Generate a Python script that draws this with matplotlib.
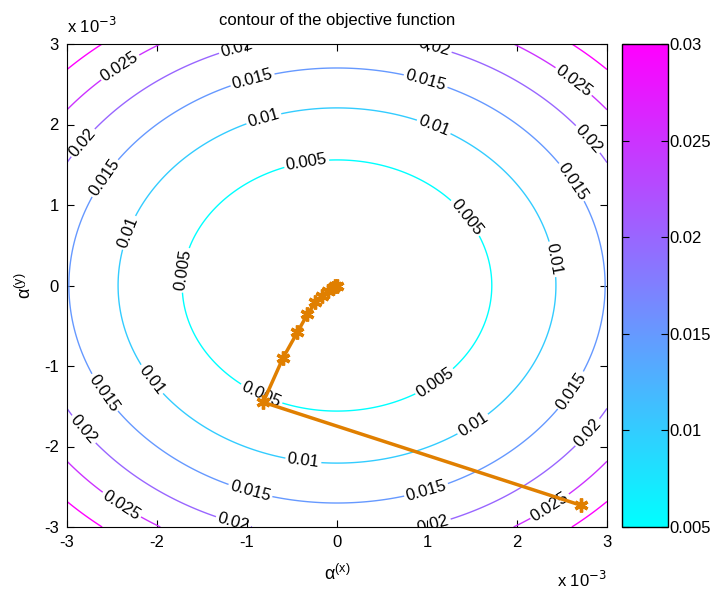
import matplotlib
matplotlib.use("Agg")
import matplotlib.pyplot as plt
import numpy as np
from matplotlib.ticker import FuncFormatter, FixedLocator
from matplotlib.colors import Normalize
from matplotlib.cm import ScalarMappable

plt.rcParams["font.family"] = ["Liberation Sans", "DejaVu Sans"]

# objective: elliptic bowl, semi-axes of the 0.005 contour
BASE_LEVEL = 0.005
SEMI_X = 1.72e-3
SEMI_Y = 1.56e-3
LEVELS = [0.005, 0.01, 0.015, 0.02, 0.025, 0.03]
LABELED = [0.005, 0.01, 0.015, 0.02, 0.025]

# descent path
path_x = [2.71e-3, -0.82e-3, -0.60e-3, -0.44e-3, -0.33e-3, -0.24e-3,
          -0.17e-3, -0.10e-3, -0.05e-3, -0.02e-3, 0.0]
path_y = [-2.73e-3, -1.45e-3, -0.90e-3, -0.58e-3, -0.36e-3, -0.21e-3,
          -0.13e-3, -0.07e-3, -0.03e-3, -0.01e-3, 0.0]

# where the inline labels sit (x, y in 1e-3 units)
label_spots = [
    (-2.41, 2.71), (2.62, 2.52), (-2.43, -2.79), (2.39, -2.79),
    (-1.11, 2.92), (1.07, 2.92), (-2.82, 1.77), (2.78, 1.81),
    (-2.86, -1.83), (2.84, -1.88), (-1.16, -2.97), (1.07, -2.97),
    (-0.93, 2.52), (0.98, 2.52), (-2.60, 1.35), (2.59, 1.27),
    (-2.67, -1.40), (2.62, -1.32), (-0.97, -2.58), (1.00, -2.58),
    (-0.80, 2.02), (1.06, 1.93), (-2.30, 0.65), (2.37, 0.32),
    (-2.11, -1.21), (1.53, -1.76), (-0.38, -2.23),
    (-0.33, 1.47), (1.44, 0.85), (-1.69, 0.19), (-0.86, -1.40), (1.11, -1.24),
]

xs = np.linspace(-3e-3, 3e-3, 241)
ys = np.linspace(-3e-3, 3e-3, 241)
X, Y = np.meshgrid(xs, ys)
Z = BASE_LEVEL * ((X / SEMI_X) ** 2 + (Y / SEMI_Y) ** 2)

fig = plt.figure(figsize=(7.21, 5.93), dpi=100)
ax = fig.add_axes([67 / 721, 1 - 527 / 593, 540 / 721, 483 / 593])
cax = fig.add_axes([622 / 721, 1 - 527 / 593, 46 / 721, 483 / 593])

cs = ax.contour(X, Y, Z, levels=LEVELS, cmap="cool", vmin=0.005, vmax=0.03,
                linewidths=1.0)
ax.clabel(cs, levels=LABELED, fmt="%g", fontsize=12, colors="k", inline=True,
          inline_spacing=2,
          manual=[(sx * 1e-3, sy * 1e-3) for sx, sy in label_spots])

ax.plot(path_x, path_y, color="#E07F00", lw=2.5, marker=(6, 2, 0),
        markersize=10, markeredgewidth=2.4, zorder=5)

ax.set_xlim(-3e-3, 3e-3)
ax.set_ylim(-3e-3, 3e-3)
ticks = np.arange(-3, 4) * 1e-3
ax.xaxis.set_major_locator(FixedLocator(ticks))
ax.yaxis.set_major_locator(FixedLocator(ticks))
fmt = FuncFormatter(lambda v, p: f"{round(v * 1e3):d}")
ax.xaxis.set_major_formatter(fmt)
ax.yaxis.set_major_formatter(fmt)
ax.tick_params(direction="in", top=True, right=True, length=5, labelsize=12,
               pad=6)

ax.set_title("contour of the objective function", fontsize=12, pad=14)
ax.set_xlabel(r"$\mathregular{\alpha^{(x)}}$", fontsize=13, labelpad=10)
ax.set_ylabel(r"$\mathregular{\alpha^{(y)}}$", fontsize=13, labelpad=6)
fig.text(67 / 721, 1 - 33 / 593, r"x 10$^{-3}$", fontsize=12, ha="left")
fig.text(607 / 721, 1 - 587 / 593, r"x 10$^{-3}$", fontsize=12, ha="right")

sm = ScalarMappable(norm=Normalize(0.005, 0.03), cmap="cool")
cb = fig.colorbar(sm, cax=cax)
cb.set_ticks([0.005, 0.01, 0.015, 0.02, 0.025, 0.03])
cb.set_ticklabels(["0.005", "0.01", "0.015", "0.02", "0.025", "0.03"])
cax.tick_params(direction="in", left=True, right=True, length=5, labelsize=12,
                pad=1)
cb.outline.set_linewidth(1.0)

fig.savefig("out.png", dpi=100)
